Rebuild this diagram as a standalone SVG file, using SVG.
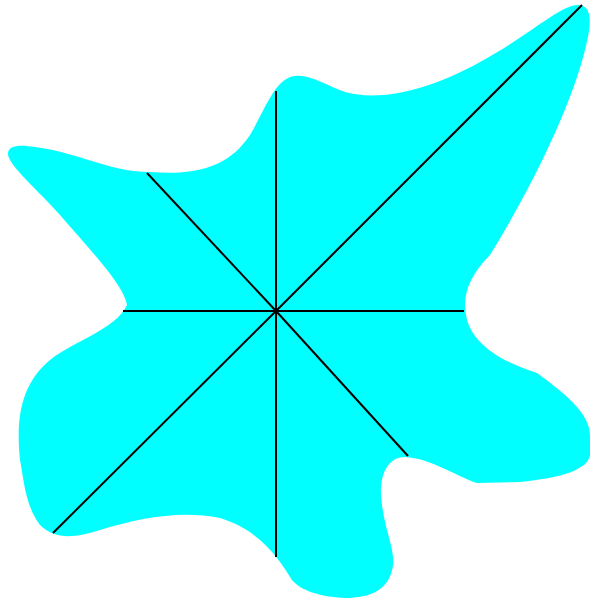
<svg xmlns="http://www.w3.org/2000/svg" width="590" height="600" viewBox="0 0 590 600">
<style>
.ray{stroke:#000;stroke-width:2;fill:none}
</style>
<rect width="590" height="600" fill="#fff"/>
<path id="blob" fill="#00ffff" d="M127,305 C124,285 90,250 60,215 C40,192 8,165 8,154 C8,144 22,145 35,147 C80,153 110,172 150,172 C200,176 230,165 250,135 C265,110 275,78 295,76 C310,74 325,85 345,92 C380,102 430,90 480,62 C530,35 560,5 578,5 C595,5 590,30 585,50 C570,110 530,190 490,255 C470,275 462,295 466,315 C470,340 495,360 537,373 C560,390 590,412 590,435 L590,455 C588,470 560,478 520,482 L477,483 C460,478 430,458 405,457 C385,457 378,480 382,505 C385,530 395,550 393,565 C390,590 370,598 345,598 C320,597 300,590 292,580 C280,560 260,530 220,518 C180,510 140,518 100,530 C75,538 55,540 40,525 C25,505 24,480 20,460 C16,420 20,385 50,360 C75,340 115,330 127,305 Z"/>
<g id="rays">
<line class="ray" x1="276" y1="311" x2="276" y2="91"/>
<line class="ray" x1="276" y1="311" x2="582" y2="5"/>
<line class="ray" x1="276" y1="311" x2="464" y2="311"/>
<line class="ray" x1="276" y1="311" x2="408" y2="456"/>
<line class="ray" x1="276" y1="311" x2="276" y2="557"/>
<line class="ray" x1="276" y1="311" x2="53" y2="533"/>
<line class="ray" x1="276" y1="311" x2="123" y2="311"/>
<line class="ray" x1="276" y1="311" x2="147" y2="173"/>
</g>
</svg>
